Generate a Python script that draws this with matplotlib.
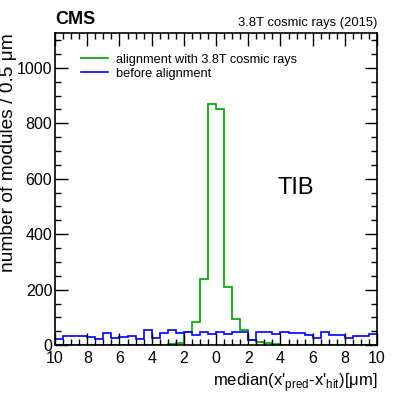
import matplotlib
matplotlib.use("Agg")
import matplotlib.pyplot as plt
import numpy as np
from matplotlib.ticker import MultipleLocator, FixedLocator, FixedFormatter

plt.rcParams['font.family'] = ['Liberation Sans', 'DejaVu Sans']

# bin edges of the histogram, 0.5 um wide, -10..10 um
bin_lo = -10.0
bin_hi = 10.0
n_bins = 40

after_align = [0, 0, 0, 0, 0, 0, 0, 0, 0, 0,
               0, 1, 1, 2, 4, 9, 48, 84, 240, 870,
               850, 209, 94, 55, 19, 11, 7, 4, 2, 1,
               1, 0, 0, 0, 0, 0, 0, 0, 0, 0]
before_align = [22, 34, 32, 32, 28, 22, 42, 24, 30, 34,
                22, 54, 24, 44, 56, 44, 46, 38, 46, 41,
                46, 41, 46, 46, 20, 49, 49, 40, 46, 42,
                44, 36, 26, 46, 36, 36, 26, 32, 32, 41]

xticks = [-10, -8, -6, -4, -2, 0, 2, 4, 6, 8, 10]
xtick_labels = ["10", "8", "6", "4", "2", "0", "2", "4", "6", "8", "10"]

edges = np.linspace(bin_lo, bin_hi, n_bins + 1)

fig = plt.figure(figsize=(3.99, 3.94), dpi=100)
ax = fig.add_axes([0.138, 0.124, 0.807, 0.792])

ax.stairs(after_align, edges, baseline=None, color="#00a000", lw=1.2,
          label="alignment with 3.8T cosmic rays")
ax.stairs(before_align, edges, baseline=None, color="#0000ff", lw=1.2,
          label="before alignment")

ax.set_xlim(bin_lo, bin_hi)
ax.set_ylim(0, 1125)

ax.xaxis.set_major_locator(FixedLocator(xticks))
ax.xaxis.set_major_formatter(FixedFormatter(xtick_labels))
ax.xaxis.set_minor_locator(MultipleLocator(0.5))
ax.yaxis.set_major_locator(MultipleLocator(200))
ax.yaxis.set_minor_locator(MultipleLocator(50))
ax.tick_params(which="both", direction="in", top=True, right=True,
               labelsize=11.5, width=1.0)
ax.tick_params(axis="x", pad=4)
ax.tick_params(axis="y", pad=2)
ax.tick_params(which="major", length=9)
ax.tick_params(which="minor", length=4.5)
for s in ax.spines.values():
    s.set_linewidth(1.2)

# y title placed by hand, ROOT style (top aligned, left of tick labels)
fig.text(0.022, 0.916, "number of modules / 0.5 μm", fontsize=13.8,
         rotation=90, ha="center", va="top")
ax.set_xlabel("median(x'$_{\\mathregular{pred}}$-x'$_{\\mathregular{hit}}$)[μm]",
              fontsize=12, loc="right", labelpad=4)

fig.text(0.138, 0.93, "CMS", fontsize=13, fontweight="bold", ha="left", va="bottom")
fig.text(0.945, 0.927, "3.8T cosmic rays (2015)", fontsize=9.4, ha="right", va="bottom")
ax.text(0.69, 0.505, "TIB", fontsize=17, transform=ax.transAxes, ha="left", va="center")

ax.legend(loc="upper left", bbox_to_anchor=(0.045, 0.97), frameon=False,
          fontsize=9.2, handlelength=2.1, handletextpad=0.6, labelspacing=0.15)

fig.savefig("out.png", dpi=100)
